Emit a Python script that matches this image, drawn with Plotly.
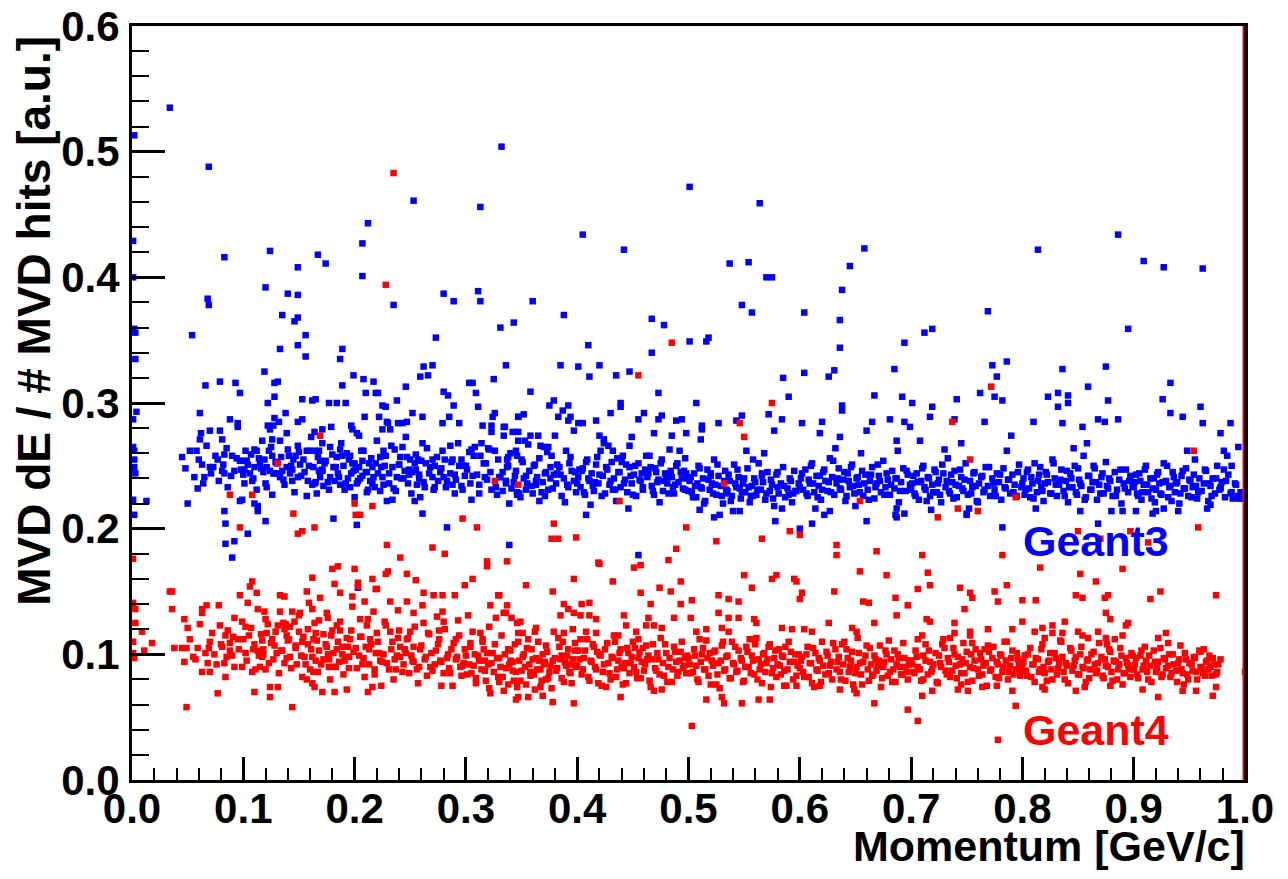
import plotly.graph_objects as go

# ---------------- data (momentum in MeV/c, energy loss in milli a.u.) ----------------
x_tick_vals = [0.0, 0.1, 0.2, 0.3, 0.4, 0.5, 0.6, 0.7, 0.8, 0.9, 1.0]
x_tick_text = ["0.0", "0.1", "0.2", "0.3", "0.4", "0.5", "0.6", "0.7", "0.8", "0.9", "1.0"]
y_tick_vals = [0.0, 0.1, 0.2, 0.3, 0.4, 0.5, 0.6]
y_tick_text = ["0.0", "0.1", "0.2", "0.3", "0.4", "0.5", "0.6"]
series_names = ["Geant3", "Geant4"]

# Geant3, momentum 0.0-0.1 GeV/c
g3_p_0 = [2, 1, 1, 2, 3, 3, 1, 4, 1, 2,
          2, 2, 3, 1, 13, 2, 34, 54, 45, 50,
          58, 59, 61, 62, 61, 63, 65, 66, 69, 68,
          69, 70, 70, 73, 77, 79, 79, 81, 83, 81,
          83, 83, 86, 83, 84, 84, 90, 88, 90, 92,
          93, 95, 95, 97, 97, 97, 99, 92]
g3_de_0 = [513, 429, 400, 359, 356, 335, 287, 293, 265, 262,
           255, 249, 244, 223, 222, 211, 535, 354, 257, 220,
           262, 232, 292, 276, 271, 251, 241, 314, 488, 383,
           378, 278, 249, 249, 255, 317, 278, 271, 259, 246,
           244, 416, 233, 214, 204, 188, 177, 287, 258, 246,
           316, 284, 281, 308, 254, 222, 223, 190]
g3_p_0b = [48, 52, 56, 60, 64, 67, 71, 75, 78, 82, 85, 89, 94, 98]
g3_de_0b = [248, 262, 241, 255, 236, 266, 244, 258, 238, 251, 264, 242, 256, 247]
# Geant3, 0.1-0.2
g3_p_1 = [100, 103, 101, 101, 104, 110, 112, 117, 126, 126,
          119, 110, 121, 124, 128, 112, 110, 113, 121, 126,
          131, 133, 137, 120, 113, 122, 124, 127, 128, 132,
          138, 149, 153, 164, 171, 179, 197, 198, 135, 140,
          145, 147, 143, 142, 149, 157, 160, 164, 167, 169,
          171, 171, 178, 184, 187, 189, 193, 196, 198, 149,
          164, 162, 166, 169, 171, 178, 182, 187, 191, 196,
          181, 124, 120, 140, 149, 135, 149, 146, 156, 149,
          133, 189, 156, 187, 119, 128, 131, 189, 153, 162,
          165, 177, 184, 122, 128, 167, 174, 149, 199, 192,
          102, 106, 108, 115, 118, 123, 129, 134, 139, 144,
          151, 155, 158, 163, 168, 173, 176, 181, 185, 190,
          194, 199]
g3_de_1 = [254, 254, 247, 236, 196, 263, 262, 270, 271, 258,
           255, 249, 249, 246, 244, 231, 220, 218, 233, 227,
           244, 241, 235, 206, 214, 282, 279, 282, 288, 285,
           292, 285, 287, 277, 279, 281, 282, 279, 246, 263,
           255, 258, 250, 244, 266, 262, 262, 262, 257, 254,
           268, 247, 265, 257, 263, 258, 260, 258, 252, 241,
           236, 235, 228, 241, 246, 241, 238, 235, 231, 233,
           208, 421, 392, 387, 386, 370, 368, 365, 354, 346,
           343, 343, 337, 335, 325, 316, 317, 314, 303, 302,
           303, 300, 300, 300, 305, 418, 411, 408, 322, 300,
           262, 244, 238, 252, 245, 262, 253, 257, 249, 238,
           251, 245, 238, 249, 246, 252, 237, 249, 244, 250,
           240, 246]
g3_p_1b = [100, 104, 107, 109, 114, 116, 120, 125, 127, 130,
           133, 136, 141, 144, 146, 150, 152, 154, 159, 161,
           165, 168, 170, 174, 177, 180, 183, 186, 188, 192,
           195, 197, 139, 157, 172]
g3_de_1b = [243, 251, 259, 240, 256, 248, 236, 265, 244, 252,
            270, 239, 258, 247, 229, 261, 242, 255, 250, 273,
            237, 262, 246, 254, 231, 259, 249, 241, 268, 236,
            255, 244, 276, 226, 234]
# Geant3, 0.2-0.3
g3_p_2 = [202, 204, 209, 222, 229, 230, 225, 232, 239, 243,
          247, 252, 261, 279, 285, 294, 204, 207, 213, 216,
          223, 227, 236, 241, 243, 247, 250, 254, 257, 261,
          270, 272, 281, 288, 294, 286, 200, 202, 207, 212,
          216, 218, 223, 225, 229, 234, 238, 245, 248, 252,
          256, 259, 254, 261, 263, 270, 272, 280, 288, 290,
          297, 202, 283, 203, 212, 207, 207, 253, 280, 289,
          235, 273, 262, 270, 259, 266, 208, 217, 210, 219,
          221, 280, 284, 225, 228, 289, 246, 238, 201, 205,
          208, 211, 214, 219, 221, 226, 231, 234, 237, 240,
          244, 249, 255, 258, 264, 267, 275, 278, 282, 286,
          291, 296, 299]
g3_de_2 = [276, 274, 289, 289, 285, 284, 279, 279, 284, 284,
           285, 292, 289, 284, 289, 284, 249, 254, 252, 249,
           257, 250, 263, 257, 265, 257, 255, 252, 255, 268,
           255, 250, 255, 255, 250, 266, 225, 236, 242, 231,
           236, 233, 230, 241, 222, 223, 241, 246, 236, 245,
           235, 225, 222, 212, 233, 241, 233, 241, 235, 228,
           231, 203, 201, 153, 443, 427, 401, 461, 387, 381,
           378, 352, 329, 330, 321, 322, 319, 317, 308, 308,
           308, 309, 306, 298, 297, 298, 313, 302, 247, 240,
           262, 245, 238, 252, 244, 262, 236, 249, 230, 251,
           240, 243, 247, 240, 252, 244, 238, 248, 233, 244,
           239, 255, 242]
g3_p_2b = [200, 203, 206, 210, 211, 215, 217, 220, 224, 226,
           228, 231, 233, 235, 240, 242, 246, 249, 251, 255,
           258, 260, 262, 265, 268, 271, 274, 277, 279, 283,
           287, 290, 293, 296, 298]
g3_de_2b = [252, 238, 262, 245, 229, 256, 241, 270, 249, 235,
            258, 244, 266, 232, 251, 240, 273, 247, 228, 259,
            243, 254, 237, 264, 249, 231, 257, 245, 262, 238,
            253, 243, 268, 234, 250]
# Geant3, 0.3-0.4
g3_p_3 = [315, 323, 323, 324, 326, 335, 342, 347, 347, 305,
          308, 313, 321, 326, 337, 338, 346, 303, 314, 300,
          305, 306, 312, 317, 323, 328, 331, 336, 339, 346,
          348, 339, 313, 332, 311, 313, 331, 343, 336, 325,
          303, 306, 309, 311, 360, 388, 385, 358, 334, 334,
          347, 352, 375, 379, 392, 387, 383, 394, 392, 397,
          365, 380, 347, 370, 374, 333, 336, 338, 341, 344,
          346, 350, 352, 355, 357, 360, 362, 364, 367, 369,
          372, 374, 377, 379, 381, 384, 386, 388, 390, 392,
          395, 397, 399, 353, 358, 366, 389, 345, 376, 318,
          354, 371, 382, 393, 363]
g3_de_3 = [282, 282, 277, 289, 292, 281, 277, 277, 289, 263,
           265, 258, 263, 262, 255, 257, 258, 261, 268, 250,
           223, 242, 235, 241, 231, 227, 241, 236, 220, 227,
           228, 187, 456, 504, 389, 381, 360, 364, 330, 319,
           316, 316, 308, 297, 381, 370, 330, 309, 281, 274,
           289, 291, 298, 302, 298, 294, 289, 289, 286, 278,
           274, 274, 270, 265, 265, 245, 238, 250, 232, 242,
           229, 255, 240, 236, 246, 228, 251, 241, 266, 237,
           245, 231, 258, 243, 236, 249, 226, 240, 262, 233,
           246, 238, 229, 270, 274, 222, 221, 262, 249, 252,
           231, 226, 244, 252, 235]
g3_p_3b = [301, 304, 307, 310, 312, 316, 319, 320, 322, 327,
           329, 330, 333, 337, 340, 343, 345, 349, 351, 354,
           356, 359, 361, 363, 366, 368, 371, 373, 376, 378,
           382, 385, 391, 394, 398]
g3_de_3b = [247, 236, 258, 243, 228, 252, 239, 264, 245, 233,
            255, 241, 230, 249, 260, 237, 246, 225, 253, 242,
            267, 234, 250, 238, 256, 229, 244, 261, 240, 232,
            251, 243, 235, 257, 245]
# Geant3, 0.4-0.5
g3_p_4 = [405, 442, 467, 478, 410, 467, 401, 420, 411, 435,
          447, 473, 439, 439, 430, 460, 476, 473, 489, 494,
          455, 401, 405, 417, 408, 455, 449, 447, 420, 424,
          424, 469, 485, 498, 401, 403, 405, 407, 409, 411,
          413, 415, 417, 419, 421, 423, 425, 427, 429, 431,
          433, 435, 437, 439, 441, 443, 445, 447, 449, 451,
          453, 455, 457, 459, 461, 463, 465, 467, 469, 471,
          473, 475, 477, 479, 481, 483, 485, 487, 489, 491,
          493, 495, 497, 499, 412, 446, 474, 492, 428, 404,
          416, 432, 444, 458, 466, 478, 486, 496, 436]
g3_de_4 = [434, 422, 367, 362, 346, 340, 329, 330, 321, 322,
           325, 308, 300, 297, 292, 292, 290, 287, 286, 287,
           287, 284, 284, 286, 211, 179, 273, 266, 274, 271,
           268, 276, 274, 276, 241, 233, 248, 227, 255, 238,
           244, 230, 251, 236, 262, 242, 228, 247, 235, 253,
           240, 222, 245, 233, 258, 239, 229, 249, 236, 243,
           226, 252, 238, 231, 247, 241, 258, 234, 227, 245,
           239, 252, 230, 244, 236, 263, 241, 228, 250, 237,
           245, 232, 256, 240, 219, 216, 221, 262, 266, 246,
           237, 231, 251, 244, 249, 238, 233, 246, 256]
g3_p_4b = [400, 402, 406, 408, 410, 414, 418, 420, 422, 426,
           430, 432, 434, 438, 440, 442, 448, 450, 452, 456,
           459, 462, 464, 468, 470, 472, 476, 480, 482, 484,
           488, 490, 494, 497, 498]
g3_de_4b = [236, 247, 229, 253, 240, 234, 257, 243, 226, 249,
            238, 262, 231, 245, 253, 236, 242, 227, 250, 239,
            233, 258, 244, 230, 248, 237, 255, 241, 228, 246,
            235, 252, 240, 231, 244]
# Geant3, 0.5-0.6
g3_p_5 = [501, 564, 537, 554, 570, 575, 548, 557, 501, 516,
          518, 507, 590, 572, 577, 584, 543, 548, 527, 511,
          512, 512, 523, 528, 546, 578, 585, 501, 503, 505,
          507, 509, 511, 513, 515, 517, 519, 521, 523, 525,
          527, 529, 531, 533, 535, 537, 539, 541, 543, 545,
          547, 549, 551, 553, 555, 557, 559, 561, 563, 565,
          567, 569, 571, 573, 575, 577, 579, 581, 583, 585,
          587, 589, 591, 593, 595, 597, 599, 510, 540, 568,
          584, 552, 506, 520, 534, 546, 558, 566, 580, 594]
g3_de_5 = [472, 459, 411, 412, 400, 400, 378, 372, 349, 349,
           352, 300, 305, 291, 278, 287, 286, 290, 284, 271,
           282, 279, 209, 211, 214, 206, 320, 238, 229, 244,
           225, 250, 233, 240, 222, 247, 231, 236, 255, 227,
           242, 234, 220, 246, 230, 238, 226, 251, 233, 241,
           224, 236, 229, 248, 221, 234, 240, 227, 252, 231,
           237, 223, 245, 230, 235, 218, 243, 228, 236, 249,
           225, 232, 240, 221, 246, 230, 236, 215, 214, 260,
           216, 262, 234, 242, 228, 232, 226, 244, 233, 228]
g3_p_5b = [500, 502, 504, 508, 510, 512, 514, 518, 520, 522,
           524, 526, 530, 532, 534, 536, 538, 542, 544, 548,
           550, 554, 556, 558, 560, 562, 566, 570, 574, 576,
           580, 586, 590, 592, 596]
g3_de_5b = [230, 241, 225, 236, 248, 232, 220, 239, 244, 228,
            235, 251, 226, 238, 231, 243, 222, 236, 247, 229,
            240, 233, 226, 255, 237, 231, 242, 228, 239, 224,
            245, 234, 227, 238, 230]
# Geant3, 0.6-0.7
g3_p_6 = [658, 645, 638, 604, 636, 636, 604, 631, 626, 685,
          667, 694, 692, 602, 618, 620, 636, 638, 638, 660,
          665, 681, 687, 600, 611, 622, 627, 660, 686, 687,
          687, 694, 694, 699, 601, 603, 605, 607, 609, 611,
          613, 615, 617, 619, 621, 623, 625, 627, 629, 631,
          633, 635, 637, 639, 641, 643, 645, 647, 649, 651,
          653, 655, 657, 659, 661, 663, 665, 667, 669, 671,
          673, 675, 677, 679, 681, 683, 685, 687, 689, 691,
          693, 695, 697, 699, 614, 650, 688, 632]
g3_de_6 = [423, 409, 390, 372, 366, 344, 324, 326, 321, 327,
           306, 348, 305, 284, 276, 285, 273, 298, 294, 278,
           285, 287, 270, 200, 204, 211, 214, 206, 211, 209,
           216, 212, 285, 281, 240, 231, 247, 226, 236, 252,
           229, 242, 234, 223, 245, 238, 230, 256, 241, 227,
           236, 248, 231, 239, 222, 244, 233, 251, 228, 240,
           235, 260, 226, 243, 231, 238, 249, 224, 236, 242,
           229, 254, 233, 239, 227, 246, 232, 240, 221, 237,
           248, 230, 243, 235, 216, 218, 262, 264]
g3_p_6b = [600, 602, 606, 608, 610, 612, 616, 618, 620, 622,
           626, 628, 630, 634, 636, 640, 642, 644, 646, 648,
           652, 654, 656, 658, 662, 664, 668, 670, 672, 676,
           678, 682, 686, 690, 696]
g3_de_6b = [233, 244, 228, 239, 250, 236, 225, 242, 231, 247,
            237, 229, 254, 240, 232, 245, 226, 238, 249, 234,
            241, 229, 246, 236, 223, 243, 233, 251, 238, 227,
            244, 235, 240, 230, 246]
# Geant3, 0.7-0.8
g3_p_7 = [712, 719, 769, 773, 786, 777, 701, 741, 762, 775,
          782, 717, 739, 766, 719, 750, 750, 782, 708, 745,
          790, 701, 703, 705, 707, 709, 711, 713, 715, 717,
          719, 721, 723, 725, 727, 729, 731, 733, 735, 737,
          739, 741, 743, 745, 747, 749, 751, 753, 755, 757,
          759, 761, 763, 765, 767, 769, 771, 773, 775, 777,
          779, 781, 783, 785, 787, 789, 791, 793, 795, 797,
          799, 718, 752, 786, 730]
g3_de_7 = [356, 359, 373, 330, 333, 321, 300, 303, 308, 305,
           302, 289, 287, 285, 297, 212, 211, 201, 270, 268,
           274, 236, 228, 244, 223, 238, 250, 231, 241, 226,
           235, 247, 229, 239, 221, 244, 233, 256, 228, 237,
           246, 225, 234, 241, 230, 252, 227, 238, 233, 245,
           222, 236, 241, 229, 249, 234, 226, 240, 231, 244,
           237, 223, 248, 232, 239, 228, 243, 235, 226, 251,
           233, 215, 216, 262, 263]
g3_p_7b = [700, 702, 704, 706, 710, 712, 714, 716, 720, 722,
           724, 726, 728, 732, 734, 736, 738, 740, 744, 746,
           748, 754, 756, 758, 760, 764, 766, 770, 774, 776,
           780, 784, 788, 792, 796]
g3_de_7b = [231, 242, 226, 237, 248, 233, 222, 240, 229, 245,
            236, 227, 251, 238, 230, 243, 224, 235, 247, 232,
            239, 228, 244, 234, 221, 242, 231, 249, 236, 226,
            243, 233, 239, 229, 245]
# Geant3, 0.8-0.9
g3_p_8 = [814, 886, 895, 836, 875, 859, 823, 832, 841, 841,
          832, 877, 810, 836, 854, 868, 874, 886, 852, 868,
          890, 801, 803, 805, 807, 809, 811, 813, 815, 817,
          819, 821, 823, 825, 827, 829, 831, 833, 835, 837,
          839, 841, 843, 845, 847, 849, 851, 853, 855, 857,
          859, 861, 863, 865, 867, 869, 871, 873, 875, 877,
          879, 881, 883, 885, 887, 889, 891, 893, 895, 897,
          899, 812, 846, 880, 858]
g3_de_8 = [422, 434, 359, 327, 329, 313, 305, 308, 306, 300,
           297, 302, 285, 284, 281, 287, 285, 287, 214, 204,
           214, 240, 231, 247, 225, 236, 252, 229, 243, 233,
           222, 245, 237, 228, 255, 240, 226, 235, 247, 230,
           238, 221, 244, 233, 250, 227, 239, 234, 258, 225,
           242, 231, 237, 248, 223, 235, 241, 228, 253, 232,
           238, 226, 245, 231, 239, 220, 236, 247, 229, 242,
           234, 216, 264, 214, 268]
g3_p_8b = [800, 802, 804, 806, 808, 810, 814, 816, 818, 820,
           822, 826, 828, 830, 834, 838, 840, 842, 844, 848,
           850, 852, 856, 860, 862, 864, 866, 870, 872, 876,
           878, 884, 888, 892, 896]
g3_de_8b = [236, 227, 245, 232, 241, 224, 238, 249, 230, 236,
            243, 228, 252, 235, 239, 226, 246, 233, 240, 229,
            248, 236, 223, 242, 231, 250, 237, 228, 244, 234,
            240, 226, 247, 232, 238]
# Geant3, 0.9-1.0
g3_p_9 = [909, 927, 962, 933, 926, 960, 933, 944, 962, 987,
          978, 994, 981, 981, 988, 978, 902, 917, 927, 940,
          969, 989, 994, 901, 903, 905, 907, 909, 911, 913,
          915, 917, 919, 921, 923, 925, 927, 929, 931, 933,
          935, 937, 939, 941, 943, 945, 947, 949, 951, 953,
          955, 957, 959, 961, 963, 965, 967, 969, 971, 973,
          975, 977, 979, 982, 985, 988, 991, 994, 997, 920,
          948, 966, 984]
g3_de_9 = [413, 408, 407, 316, 303, 297, 292, 289, 284, 284,
           276, 265, 262, 247, 250, 233, 214, 212, 216, 214,
           219, 224, 224, 237, 228, 244, 223, 235, 250, 229,
           240, 232, 221, 243, 236, 227, 252, 238, 225, 234,
           245, 229, 237, 220, 242, 232, 248, 226, 238, 233,
           255, 224, 240, 230, 236, 246, 222, 234, 240, 228,
           250, 231, 237, 225, 243, 229, 236, 226, 224, 214,
           262, 216, 258]
g3_p_9b = [900, 902, 904, 906, 908, 910, 912, 916, 918, 920,
           922, 924, 926, 930, 932, 934, 936, 938, 942, 944,
           946, 950, 952, 954, 956, 958, 964, 968, 970, 974,
           978, 983, 987, 992, 996]
g3_de_9b = [233, 243, 226, 238, 229, 247, 235, 224, 240, 231,
            245, 228, 237, 250, 233, 222, 241, 236, 228, 246,
            232, 239, 225, 243, 234, 229, 247, 236, 226, 240,
            232, 238, 228, 235, 229]

# Geant4, 0.0-0.1
g4_p_0 = [1, 1, 3, 1, 1, 9, 11, 18, 34, 36,
          36, 38, 45, 47, 50, 49, 47, 49, 59, 63,
          63, 67, 70, 69, 68, 63, 70, 77, 78, 79,
          84, 83, 84, 86, 88, 88, 90, 92, 92, 97,
          99, 99, 88, 97, 2, 3, 55, 74, 81, 95]
g4_de_0 = [176, 141, 136, 110, 101, 118, 103, 109, 150, 150,
           136, 105, 105, 128, 121, 105, 94, 58, 105, 136,
           133, 139, 110, 105, 93, 86, 86, 69, 139, 123,
           82, 93, 115, 119, 109, 103, 99, 129, 90, 147,
           90, 126, 227, 201, 97, 125, 98, 100, 106, 112]
g4_p_0b = [52, 57, 61, 66, 72, 76, 80, 85, 91, 96]
g4_de_0b = [112, 96, 124, 101, 117, 92, 108, 98, 114, 104]
# Geant4, 0.1-0.2
g4_p_1 = [102, 102, 106, 108, 104, 108, 110, 112, 113, 113,
          115, 117, 117, 121, 122, 119, 124, 124, 131, 128,
          130, 131, 133, 137, 133, 137, 138, 137, 142, 144,
          144, 140, 142, 146, 151, 153, 155, 153, 157, 162,
          159, 157, 162, 164, 165, 162, 165, 162, 164, 169,
          167, 171, 175, 176, 175, 176, 178, 180, 185, 182,
          180, 180, 183, 182, 187, 187, 185, 187, 192, 191,
          194, 196, 193, 198, 198, 108, 131, 169, 145, 149,
          153, 164, 105, 110, 118, 126, 134, 139, 147, 150,
          158, 163, 168, 172, 177, 184, 189, 195, 170, 160,
          148, 127, 114, 120]
g4_de_1 = [122, 101, 154, 158, 141, 86, 70, 149, 136, 103,
           90, 111, 98, 117, 124, 134, 66, 74, 74, 107,
           101, 123, 147, 146, 134, 120, 124, 93, 122, 134,
           58, 111, 98, 126, 133, 110, 98, 82, 80, 161,
           141, 150, 136, 125, 117, 98, 95, 77, 74, 145,
           86, 70, 133, 129, 106, 100, 80, 168, 170, 156,
           119, 90, 90, 70, 149, 126, 110, 119, 98, 95,
           106, 112, 72, 146, 138, 227, 252, 274, 212, 196,
           198, 201, 115, 108, 104, 112, 103, 115, 105, 118,
           108, 112, 103, 116, 96, 104, 100, 89, 92, 88,
           92, 96, 99, 88]
g4_p_1b = [100, 103, 107, 109, 111, 116, 118, 120, 123, 125,
           129, 132, 135, 136, 139, 141, 143, 147, 150, 152,
           154, 156, 158, 161, 163, 166, 168, 172, 174, 177,
           179, 181, 184, 186, 189, 190, 193, 195, 197, 199]
g4_de_1b = [112, 95, 121, 104, 88, 116, 100, 128, 93, 109,
            118, 85, 103, 125, 97, 112, 89, 107, 131, 99,
            114, 92, 120, 104, 86, 111, 127, 96, 108, 90,
            115, 101, 123, 94, 106, 84, 113, 98, 119, 102]
# Geant4, 0.2-0.3
g4_p_2 = [200, 203, 205, 209, 205, 210, 214, 212, 209, 212,
          216, 216, 219, 217, 219, 223, 224, 228, 230, 232,
          228, 232, 235, 239, 239, 241, 241, 237, 247, 247,
          247, 250, 253, 253, 255, 253, 257, 262, 261, 262,
          266, 268, 271, 274, 276, 277, 279, 279, 280, 280,
          278, 288, 290, 291, 293, 295, 299, 235, 228, 200,
          216, 201, 205, 229, 270, 281, 241, 297, 220, 203,
          204, 207, 213, 218, 221, 226, 229, 233, 236, 244,
          246, 249, 251, 256, 259, 263, 265, 269, 272, 275,
          283, 285, 287, 292, 296, 298]
g4_de_2 = [168, 154, 128, 142, 114, 106, 112, 128, 82, 70,
           74, 160, 152, 134, 101, 95, 75, 164, 166, 142,
           123, 118, 80, 135, 113, 106, 98, 88, 164, 142,
           112, 118, 106, 94, 159, 133, 77, 149, 139, 125,
           117, 90, 147, 130, 119, 95, 147, 134, 126, 85,
           75, 75, 147, 112, 127, 90, 155, 483, 394, 220,
           218, 211, 211, 187, 185, 180, 177, 208, 152, 157,
           99, 92, 104, 88, 110, 100, 93, 104, 96, 92,
           101, 85, 99, 88, 104, 96, 83, 101, 92, 108,
           97, 89, 104, 98, 83, 93]
g4_p_2b = [201, 202, 206, 208, 211, 213, 215, 218, 220, 222,
           225, 227, 231, 234, 238, 240, 243, 245, 248, 252,
           254, 258, 260, 264, 267, 270, 273, 276, 278, 281,
           284, 286, 289, 291, 294, 297, 299]
g4_de_2b = [105, 89, 114, 97, 123, 92, 108, 84, 117, 101,
            94, 126, 88, 110, 99, 119, 86, 104, 113, 95,
            122, 90, 107, 98, 116, 87, 103, 112, 94, 120,
            100, 85, 109, 96, 115, 91, 104]
# Geant4, 0.3-0.4
g4_p_3 = [302, 306, 306, 304, 308, 309, 313, 315, 317, 319,
          321, 322, 324, 327, 329, 322, 330, 337, 336, 338,
          340, 342, 346, 346, 347, 347, 310, 319, 337, 330,
          326, 347, 334, 341, 349, 345, 356, 369, 354, 378,
          379, 363, 351, 388, 396, 388, 392, 385, 397, 379,
          377, 383, 399, 397, 397, 378, 303, 305, 311, 314,
          316, 318, 320, 325, 328, 331, 333, 335, 339, 343,
          344, 348, 350, 352, 354, 357, 359, 361, 363, 365,
          367, 368, 371, 373, 375, 377, 380, 382, 384, 386,
          389, 391, 393, 395, 398, 399, 356, 362, 372, 387,
          334, 358, 366, 376, 385, 394]
g4_de_3 = [131, 160, 118, 109, 100, 81, 117, 110, 95, 170,
           122, 139, 101, 129, 147, 69, 78, 139, 133, 104,
           95, 87, 125, 74, 117, 66, 201, 174, 174, 147,
           238, 235, 133, 129, 126, 64, 66, 67, 155, 150,
           118, 121, 117, 117, 120, 140, 136, 131, 133, 204,
           192, 192, 193, 160, 61, 62, 92, 85, 99, 88,
           104, 79, 92, 86, 97, 90, 82, 100, 92, 79,
           108, 95, 87, 100, 76, 92, 104, 84, 97, 110,
           88, 79, 94, 102, 86, 73, 97, 89, 106, 81,
           94, 99, 86, 77, 103, 90, 112, 72, 80, 110,
           71, 86, 95, 91, 96, 92]
g4_p_3b = [300, 301, 304, 307, 309, 312, 315, 317, 319, 321,
           323, 326, 329, 330, 332, 336, 338, 340, 342, 345,
           347, 349, 351, 353, 355, 358, 360, 362, 364, 367,
           369, 370, 372, 374, 378, 381, 383, 386, 388, 390,
           392, 394, 396, 398]
g4_de_3b = [99, 84, 106, 91, 77, 95, 112, 87, 101, 73,
            93, 108, 82, 97, 115, 89, 76, 103, 94, 86,
            110, 79, 98, 90, 105, 83, 96, 118, 88, 74,
            100, 92, 107, 81, 95, 87, 113, 99, 78, 91,
            104, 85, 96, 109]
# Geant4, 0.4-0.5
g4_p_4 = [420, 451, 457, 482, 474, 484, 493, 457, 485, 455,
          498, 489, 419, 404, 411, 466, 493, 403, 411, 417,
          442, 464, 487, 444, 462, 469, 476, 403, 408, 417,
          437, 453, 455, 439, 469, 476, 438, 432, 402, 405,
          407, 410, 412, 414, 416, 419, 421, 423, 425, 428,
          430, 432, 434, 436, 438, 441, 443, 445, 447, 449,
          451, 454, 456, 458, 460, 462, 465, 467, 470, 472,
          474, 477, 479, 481, 483, 486, 488, 490, 492, 494,
          496, 498, 499, 418, 426, 440, 452, 463]
g4_de_4 = [172, 169, 171, 175, 153, 150, 158, 149, 348, 322,
           201, 184, 173, 140, 141, 140, 140, 131, 131, 128,
           131, 129, 129, 123, 123, 123, 121, 112, 118, 117,
           115, 118, 112, 66, 71, 72, 222, 158, 96, 88,
           103, 82, 95, 108, 90, 77, 99, 86, 104, 93,
           80, 97, 110, 88, 101, 76, 93, 105, 85, 98,
           90, 81, 102, 94, 87, 107, 79, 96, 89, 101,
           84, 93, 108, 78, 97, 88, 102, 83, 95, 110,
           91, 85, 99, 102, 74, 90, 105, 96]
g4_p_4b = [400, 401, 404, 406, 409, 411, 413, 415, 417, 420,
           422, 424, 427, 429, 431, 433, 435, 437, 439, 442,
           444, 446, 448, 450, 453, 455, 457, 459, 461, 464,
           466, 468, 471, 473, 475, 478, 480, 482, 485, 487,
           489, 491, 493, 495, 497]
g4_de_4b = [91, 103, 84, 97, 112, 79, 94, 106, 88, 100,
            75, 92, 109, 85, 98, 115, 82, 95, 104, 89,
            77, 101, 93, 110, 86, 97, 81, 105, 92, 99,
            74, 108, 87, 96, 113, 83, 101, 90, 78, 106,
            94, 86, 102, 89, 97]
# Geant4, 0.5-0.6
g4_p_5 = [503, 575, 525, 566, 591, 503, 527, 536, 545, 550,
          557, 579, 575, 595, 597, 502, 527, 536, 545, 559,
          561, 507, 516, 530, 536, 584, 593, 516, 530, 532,
          548, 563, 573, 586, 597, 546, 550, 532, 501, 504,
          506, 508, 511, 513, 515, 517, 520, 522, 524, 526,
          529, 531, 533, 535, 538, 540, 542, 544, 547, 549,
          551, 553, 556, 558, 560, 562, 565, 567, 569, 571,
          574, 576, 578, 580, 583, 585, 587, 589, 591, 594,
          596, 598, 510, 528, 555, 572, 590, 519]
g4_de_5 = [43, 300, 190, 192, 198, 143, 147, 144, 142, 163,
           153, 163, 160, 160, 158, 129, 133, 129, 129, 128,
           125, 118, 120, 121, 118, 121, 120, 64, 66, 61,
           61, 64, 64, 75, 75, 284, 273, 236, 92, 86,
           99, 80, 94, 105, 88, 97, 76, 91, 103, 84,
           95, 110, 88, 99, 81, 93, 106, 87, 97, 78,
           90, 102, 85, 95, 108, 80, 92, 100, 86, 96,
           74, 89, 103, 92, 84, 98, 106, 88, 94, 80,
           100, 91, 112, 73, 112, 106, 110, 101]
g4_p_5b = [500, 502, 505, 507, 509, 512, 514, 516, 518, 521,
           523, 525, 527, 530, 532, 534, 537, 539, 541, 543,
           545, 548, 550, 552, 554, 557, 559, 561, 563, 564,
           566, 568, 570, 573, 575, 577, 579, 581, 582, 584,
           586, 588, 592, 595, 597, 599]
g4_de_5b = [97, 85, 104, 91, 78, 100, 88, 111, 83, 95,
            102, 76, 93, 107, 87, 98, 81, 110, 92, 86,
            103, 95, 79, 106, 90, 99, 84, 113, 96, 88,
            77, 101, 93, 108, 85, 97, 82, 104, 91, 99,
            87, 75, 102, 94, 83, 100]
# Geant4, 0.6-0.7
g4_p_6 = [600, 633, 633, 669, 631, 654, 678, 600, 602, 657,
          662, 686, 687, 626, 667, 604, 611, 647, 651, 654,
          667, 636, 651, 649, 618, 697, 697, 601, 603, 606,
          608, 610, 612, 615, 617, 619, 621, 624, 626, 628,
          630, 633, 635, 637, 639, 642, 644, 646, 648, 651,
          653, 655, 657, 660, 662, 664, 667, 669, 671, 673,
          675, 677, 679, 682, 684, 686, 688, 690, 692, 694,
          696, 698, 613, 640, 666, 680]
g4_de_6 = [195, 187, 179, 182, 150, 166, 163, 144, 149, 142,
           141, 145, 131, 125, 125, 120, 118, 121, 118, 222,
           61, 72, 69, 72, 75, 139, 56, 95, 86, 100,
           82, 93, 105, 88, 97, 78, 91, 102, 85, 94,
           109, 88, 98, 80, 92, 104, 86, 95, 76, 90,
           101, 84, 94, 107, 79, 92, 99, 87, 95, 74,
           90, 103, 83, 96, 88, 78, 100, 90, 84, 97,
           86, 92, 74, 110, 84, 111]
g4_p_6b = [600, 602, 604, 607, 609, 611, 614, 616, 618, 620,
           623, 625, 627, 629, 632, 634, 636, 638, 641, 643,
           645, 647, 650, 652, 654, 656, 659, 661, 663, 665,
           668, 670, 672, 674, 676, 678, 681, 683, 685, 687,
           689, 691, 693, 695, 697, 699]
g4_de_6b = [89, 98, 82, 106, 93, 77, 101, 87, 95, 110,
            84, 99, 91, 80, 104, 94, 86, 108, 79, 97,
            90, 102, 85, 113, 93, 76, 99, 88, 105, 83,
            96, 91, 107, 81, 94, 100, 86, 78, 103, 92,
            97, 84, 109, 90, 80, 95]
# Geant4, 0.7-0.8
g4_p_7 = [772, 737, 724, 742, 760, 794, 753, 710, 782, 715,
          706, 717, 744, 775, 786, 753, 755, 778, 748, 714,
          717, 739, 769, 791, 710, 706, 735, 739, 753, 753,
          755, 706, 794, 778, 710, 719, 742, 751, 764, 777,
          791, 701, 703, 705, 708, 711, 713, 716, 718, 720,
          723, 725, 727, 730, 732, 734, 737, 739, 741, 744,
          746, 748, 750, 753, 755, 757, 760, 762, 764, 767,
          769, 771, 773, 776, 778, 780, 782, 785, 787, 789,
          791, 794, 796, 798, 728, 745, 766, 784]
g4_de_7 = [313, 285, 209, 216, 214, 225, 255, 179, 179, 165,
           152, 155, 153, 150, 155, 149, 145, 142, 136, 128,
           126, 125, 120, 120, 115, 112, 113, 117, 118, 115,
           109, 47, 59, 32, 67, 71, 72, 71, 74, 75,
           71, 92, 85, 98, 88, 80, 95, 103, 86, 92,
           78, 99, 90, 105, 84, 94, 87, 100, 81, 92,
           96, 85, 102, 90, 79, 95, 88, 101, 84, 93,
           107, 87, 97, 82, 92, 100, 86, 95, 80, 91,
           103, 88, 96, 83, 108, 76, 104, 110]
g4_p_7b = [700, 702, 704, 706, 709, 711, 713, 715, 717, 719,
           722, 724, 726, 729, 731, 733, 735, 738, 740, 742,
           745, 747, 749, 751, 754, 756, 758, 761, 763, 765,
           768, 770, 772, 774, 777, 779, 781, 783, 786, 788,
           790, 792, 795, 797, 799]
g4_de_7b = [95, 86, 103, 90, 79, 99, 108, 84, 94, 88,
            101, 77, 93, 112, 87, 97, 82, 105, 91, 98,
            85, 109, 93, 78, 100, 89, 104, 83, 96, 91,
            75, 102, 88, 106, 94, 81, 99, 90, 110, 86,
            97, 84, 101, 92, 87]
# Geant4, 0.8-0.9
g4_p_8 = [816, 852, 890, 866, 848, 854, 874, 877, 800, 812,
          875, 879, 800, 838, 895, 893, 827, 827, 836, 868,
          811, 818, 820, 850, 854, 859, 875, 883, 890, 850,
          870, 897, 818, 820, 848, 879, 801, 803, 805, 808,
          810, 812, 815, 817, 819, 822, 824, 826, 829, 831,
          833, 836, 838, 840, 843, 845, 847, 850, 852, 854,
          857, 859, 861, 864, 866, 868, 871, 873, 875, 878,
          880, 882, 885, 887, 889, 892, 894, 896, 898, 835,
          856, 876, 890]
g4_de_8 = [169, 164, 168, 158, 147, 145, 145, 147, 143, 143,
           133, 128, 126, 126, 125, 123, 123, 117, 117, 118,
           118, 121, 113, 118, 115, 113, 113, 112, 115, 198,
           192, 198, 74, 72, 71, 75, 94, 87, 100, 82,
           92, 97, 86, 104, 90, 79, 95, 88, 101, 84,
           93, 98, 80, 91, 105, 87, 95, 84, 100, 90,
           78, 96, 88, 102, 85, 93, 98, 81, 91, 104,
           86, 95, 80, 92, 99, 85, 93, 88, 101, 110,
           74, 108, 76]
g4_p_8b = [800, 802, 804, 807, 809, 811, 814, 816, 818, 820,
           823, 825, 827, 830, 832, 834, 837, 839, 841, 844,
           846, 848, 851, 853, 855, 858, 860, 862, 865, 867,
           869, 872, 874, 877, 879, 881, 884, 886, 888, 891,
           893, 895, 897, 899]
g4_de_8b = [90, 99, 83, 105, 92, 78, 96, 88, 108, 85,
            94, 101, 80, 97, 89, 111, 86, 93, 77, 103,
            91, 98, 84, 106, 89, 95, 81, 100, 92, 87,
            109, 83, 96, 90, 102, 79, 94, 88, 105, 85,
            97, 91, 82, 99]
# Geant4, 0.9-1.0
g4_p_9 = [913, 958, 954, 924, 974, 915, 929, 922, 908, 944,
          956, 922, 978, 960, 968, 974, 971, 1000, 901, 903,
          906, 908, 911, 913, 915, 918, 920, 922, 925, 927,
          929, 932, 934, 936, 939, 941, 943, 946, 948, 950,
          953, 955, 957, 960, 962, 965, 967, 970, 972, 975,
          910, 931, 945, 963]
g4_de_9 = [189, 201, 262, 150, 147, 144, 117, 113, 72, 71,
           71, 66, 96, 102, 99, 74, 67, 86, 92, 84,
           99, 88, 95, 80, 91, 103, 86, 94, 82, 97,
           89, 100, 85, 92, 78, 96, 88, 101, 84, 93,
           87, 97, 80, 90, 85, 94, 88, 83, 92, 86,
           106, 109, 76, 104]
g4_p_9b = [900, 902, 904, 907, 909, 912, 914, 916, 919, 921,
           924, 926, 928, 931, 933, 935, 938, 940, 942, 944,
           947, 949, 952, 954, 956, 959, 961, 964, 966, 969,
           971, 974, 976]
g4_de_9b = [88, 97, 81, 103, 91, 86, 99, 78, 94, 89,
            105, 84, 96, 91, 82, 100, 87, 93, 107, 85,
            96, 80, 92, 98, 86, 103, 89, 83, 95, 90,
            97, 84, 92]

g3_segments = [(g3_p_0, g3_de_0), (g3_p_0b, g3_de_0b), (g3_p_1, g3_de_1), (g3_p_1b, g3_de_1b),
               (g3_p_2, g3_de_2), (g3_p_2b, g3_de_2b), (g3_p_3, g3_de_3), (g3_p_3b, g3_de_3b),
               (g3_p_4, g3_de_4), (g3_p_4b, g3_de_4b), (g3_p_5, g3_de_5), (g3_p_5b, g3_de_5b),
               (g3_p_6, g3_de_6), (g3_p_6b, g3_de_6b), (g3_p_7, g3_de_7), (g3_p_7b, g3_de_7b),
               (g3_p_8, g3_de_8), (g3_p_8b, g3_de_8b), (g3_p_9, g3_de_9), (g3_p_9b, g3_de_9b)]
g4_segments = [(g4_p_0, g4_de_0), (g4_p_0b, g4_de_0b), (g4_p_1, g4_de_1), (g4_p_1b, g4_de_1b),
               (g4_p_2, g4_de_2), (g4_p_2b, g4_de_2b), (g4_p_3, g4_de_3), (g4_p_3b, g4_de_3b),
               (g4_p_4, g4_de_4), (g4_p_4b, g4_de_4b), (g4_p_5, g4_de_5), (g4_p_5b, g4_de_5b),
               (g4_p_6, g4_de_6), (g4_p_6b, g4_de_6b), (g4_p_7, g4_de_7), (g4_p_7b, g4_de_7b),
               (g4_p_8, g4_de_8), (g4_p_8b, g4_de_8b), (g4_p_9, g4_de_9), (g4_p_9b, g4_de_9b)]


def collect(segments):
    xs, ys = [], []
    for p, d in segments:
        n = min(len(p), len(d))
        xs += [v / 1000.0 for v in p[:n]]   # MeV/c -> GeV/c
        ys += [v / 1000.0 for v in d[:n]]   # milli a.u. -> a.u.
    return xs, ys


g3_x, g3_y = collect(g3_segments)
g4_x, g4_y = collect(g4_segments)

# ---------------- figure ----------------
FONT = "Liberation Sans, Arial, Helvetica, sans-serif"
BLUE = "#0000ff"
RED = "#ff0000"

fig = go.Figure()
fig.add_trace(go.Scatter(x=g3_x, y=g3_y, mode="markers", name=series_names[0],
                         marker=dict(symbol="square", size=6.5, color=BLUE, line=dict(width=0))))
fig.add_trace(go.Scatter(x=g4_x, y=g4_y, mode="markers", name=series_names[1],
                         marker=dict(symbol="square", size=6.5, color=RED, line=dict(width=0))))

axis_common = dict(showgrid=False, zeroline=False, showline=True, linecolor="black",
                   linewidth=3, mirror=True, ticks="inside", tickcolor="black",
                   automargin=False, ticklabeloverflow="allow",
                   tickfont=dict(family=FONT, size=42, color="black", weight="bold"))

fig.update_xaxes(range=[0, 1], tickvals=x_tick_vals, ticktext=x_tick_text,
                 ticklen=23, tickwidth=2.5, ticklabelstandoff=-10,
                 minor=dict(dtick=0.02, ticks="inside", ticklen=12, tickwidth=2,
                            tickcolor="black", showgrid=False),
                 **axis_common)
fig.update_yaxes(range=[0, 0.6], tickvals=y_tick_vals, ticktext=y_tick_text,
                 ticklen=33, tickwidth=2.5, ticklabelstandoff=1,
                 minor=dict(dtick=0.02, ticks="inside", ticklen=17, tickwidth=2,
                            tickcolor="black", showgrid=False),
                 **axis_common)

fig.add_shape(type="line", xref="x", yref="paper", x0=1, x1=1, y0=0, y1=1,
              line=dict(color=RED, width=5), layer="above")
fig.add_shape(type="line", xref="x", yref="paper", x0=1, x1=1, y0=0, y1=1,
              line=dict(color="black", width=1.5), layer="above")

fig.add_annotation(text="Momentum [GeV/c]", xref="paper", yref="paper",
                   x=1.002, y=-0.087, xanchor="right", yanchor="middle", showarrow=False,
                   font=dict(family=FONT, size=43, color="black", weight="bold"))
fig.add_annotation(text="MVD dE / # MVD hits [a.u.]", xref="paper", yref="paper",
                   x=-0.088, y=0.609, xanchor="center", yanchor="middle", textangle=-90,
                   showarrow=False,
                   font=dict(family=FONT, size=46, color="black", weight="bold"))
fig.add_annotation(text=series_names[0], xref="paper", yref="paper",
                   x=0.866, y=0.317, xanchor="center", yanchor="middle", showarrow=False,
                   font=dict(family=FONT, size=43, color=BLUE, weight="bold"))
fig.add_annotation(text=series_names[1], xref="paper", yref="paper",
                   x=0.866, y=0.066, xanchor="center", yanchor="middle", showarrow=False,
                   font=dict(family=FONT, size=43, color=RED, weight="bold"))

# the page body adds an 8 px offset, so the figure is 8 px smaller and margins shifted
fig.update_layout(width=1280, height=871,
                  margin=dict(l=124, r=43, t=18, b=99),
                  paper_bgcolor="white", plot_bgcolor="white",
                  showlegend=False)

fig.write_html("out.html")
